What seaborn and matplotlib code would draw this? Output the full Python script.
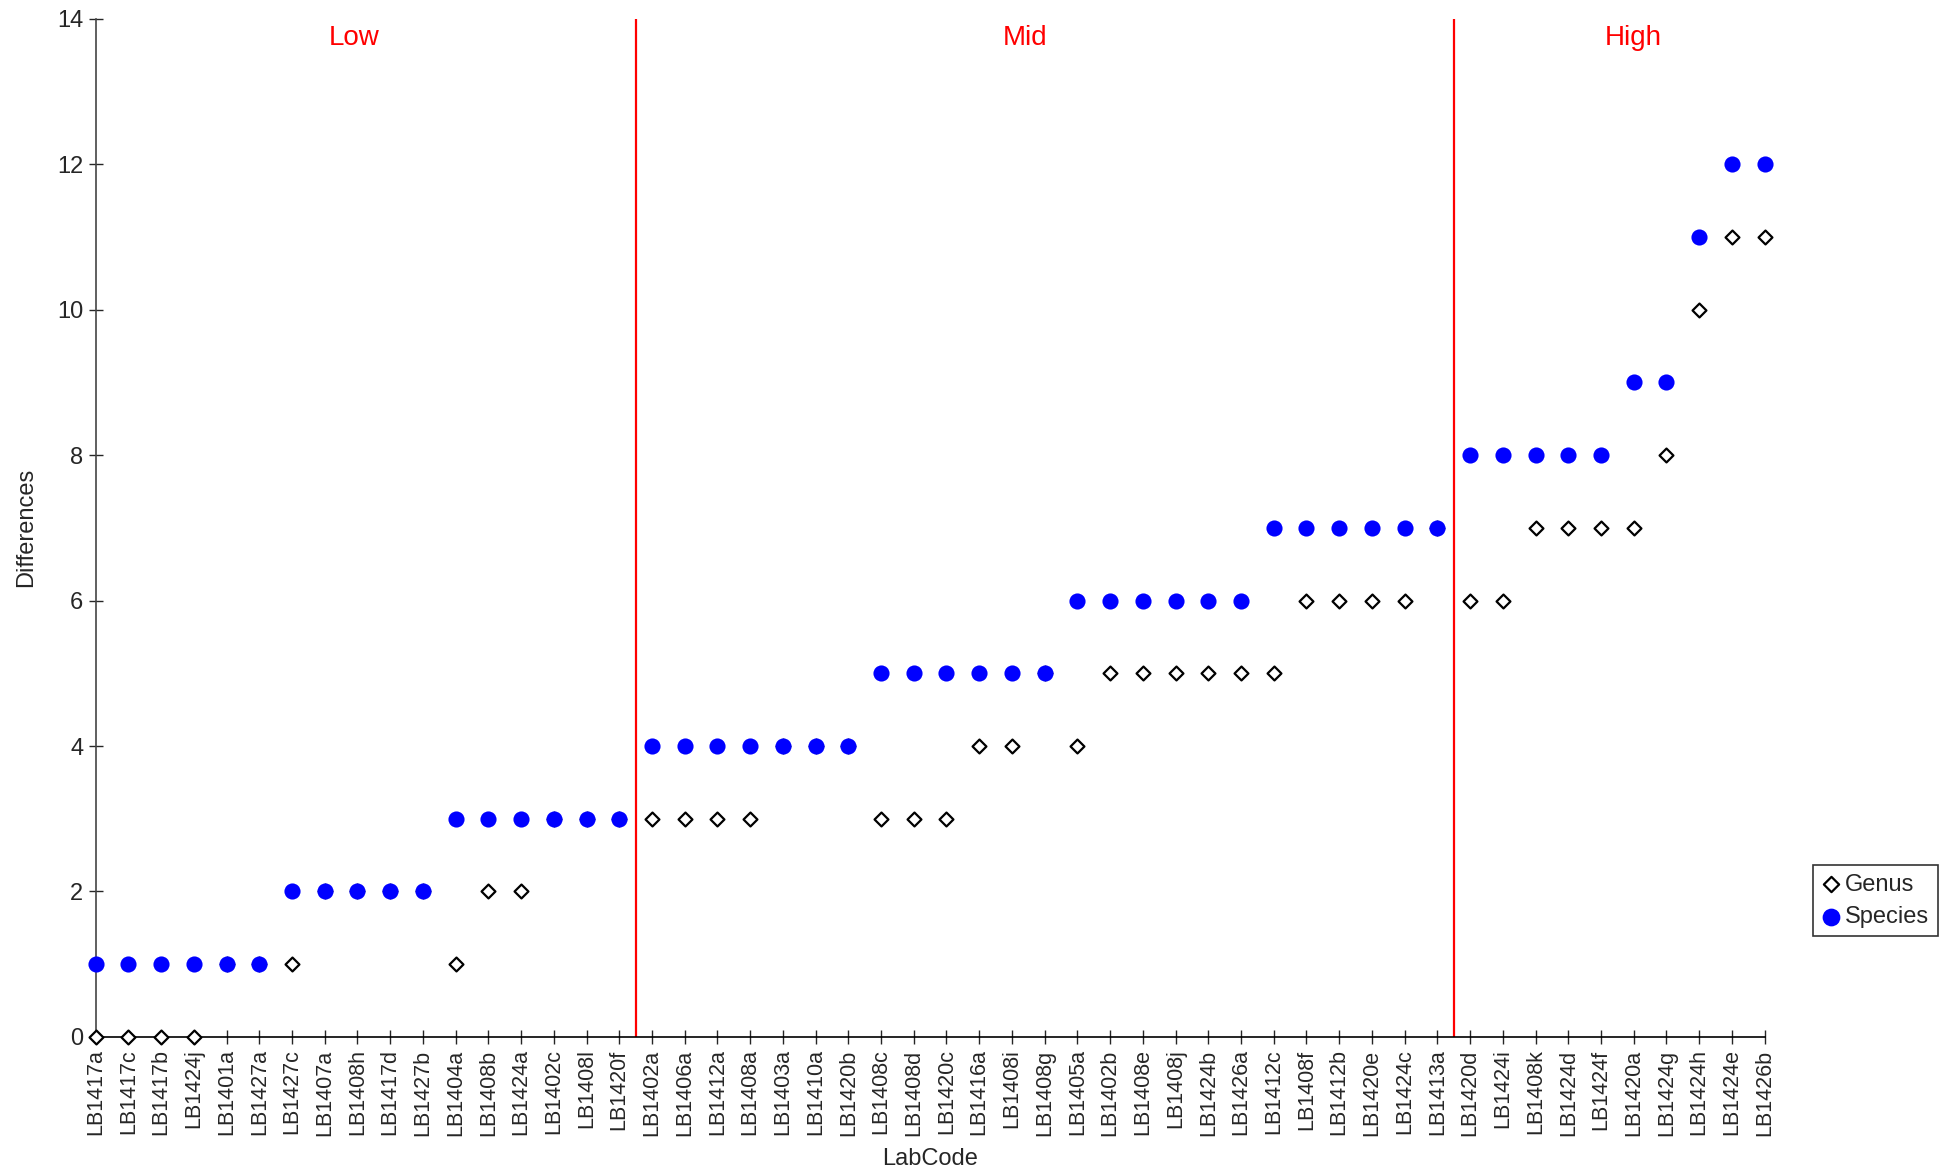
import matplotlib
matplotlib.use("Agg")
import matplotlib.pyplot as plt
import seaborn as sns
import pandas as pd

# 데이터
lab_codes = ["LB1417a", "LB1417c", "LB1417b", "LB1424j", "LB1401a", "LB1427a",
             "LB1427c", "LB1407a", "LB1408h", "LB1417d", "LB1427b", "LB1404a",
             "LB1408b", "LB1424a", "LB1402c", "LB1408l", "LB1420f", "LB1402a",
             "LB1406a", "LB1412a", "LB1408a", "LB1403a", "LB1410a", "LB1420b",
             "LB1408c", "LB1408d", "LB1420c", "LB1416a", "LB1408i", "LB1408g",
             "LB1405a", "LB1402b", "LB1408e", "LB1408j", "LB1424b", "LB1426a",
             "LB1412c", "LB1408f", "LB1412b", "LB1420e", "LB1424c", "LB1413a",
             "LB1420d", "LB1424i", "LB1408k", "LB1424d", "LB1424f", "LB1420a",
             "LB1424g", "LB1424h", "LB1424e", "LB1426b"]
species = [1, 1, 1, 1, 1, 1, 2, 2, 2, 2, 2, 3, 3, 3, 3, 3, 3, 4, 4, 4, 4, 4, 4, 4,
           5, 5, 5, 5, 5, 5, 6, 6, 6, 6, 6, 6, 7, 7, 7, 7, 7, 7, 8, 8, 8, 8, 8,
           9, 9, 11, 12, 12]
genus = [0, 0, 0, 0, 1, 1, 1, 2, 2, 2, 2, 1, 2, 2, 3, 3, 3, 3, 3, 3, 3, 4, 4, 4,
         3, 3, 3, 4, 4, 5, 4, 5, 5, 5, 5, 5, 5, 6, 6, 6, 6, 7, 6, 6, 7, 7, 7,
         7, 8, 10, 11, 11]
groups = ["Low", "Mid", "High"]
group_ends = ["LB1420f", "LB1413a"]   # 구간 경계 (이 코드 다음에 선)

df = pd.DataFrame({"LabCode": lab_codes, "Species": species, "Genus": genus})

sns.set_style("white")
plt.rcParams["font.family"] = ["Liberation Sans", "DejaVu Sans"]

fig = plt.figure(figsize=(19.52, 11.73), dpi=100)
ax = fig.add_axes([0.049, 0.116, 0.855, 0.868])

sns.scatterplot(data=df, x="LabCode", y="Genus", marker="D", s=50,
                facecolor="white", edgecolor="black", linewidth=1.6,
                label="Genus", clip_on=False, zorder=3, ax=ax)
sns.scatterplot(data=df, x="LabCode", y="Species", marker="o", s=135,
                color="#0000ff", edgecolor="#0000ff", linewidth=0,
                label="Species", clip_on=False, zorder=4, ax=ax)

# 구간 선
for code in group_ends:
    pos = lab_codes.index(code) + 0.5
    ax.plot([pos, pos], [0, 14], color="red", lw=1.6, zorder=2)

text_x = [7.9, 28.4, 47.0]
for name, tx in zip(groups, text_x):
    ax.text(tx, 13.73, name, color="red", fontsize=20, ha="center", va="center")

ax.set_xlim(0, len(lab_codes) - 1)
ax.set_ylim(0, 14)
ax.set_yticks(range(0, 15, 2))
ax.set_xticks(range(len(lab_codes)))
ax.set_xticklabels(lab_codes, rotation=90, fontsize=15.5)
ax.tick_params(axis="y", labelsize=17, direction="inout", length=10, width=1,
               left=True, pad=4)
ax.tick_params(axis="x", direction="inout", length=10, width=1, bottom=True, pad=4)

sns.despine(ax=ax)
ax.spines["left"].set_color("#444444")
ax.spines["bottom"].set_color("black")
ax.spines["left"].set_linewidth(1.2)
ax.spines["bottom"].set_linewidth(1.2)

ax.set_xlabel("LabCode", fontsize=17, labelpad=9)
ax.set_ylabel("Differences", fontsize=17, labelpad=14)

leg = ax.legend(loc="center left", bbox_to_anchor=(0.929, 0.232),
                bbox_transform=fig.transFigure, fontsize=17, frameon=True,
                fancybox=False, edgecolor="black", handletextpad=0.2,
                borderpad=0.35, handlelength=0.8, labelspacing=0.45,
                borderaxespad=0, markerscale=1.1)
leg.get_frame().set_linewidth(1.2)

fig.savefig("out.png", dpi=100)
